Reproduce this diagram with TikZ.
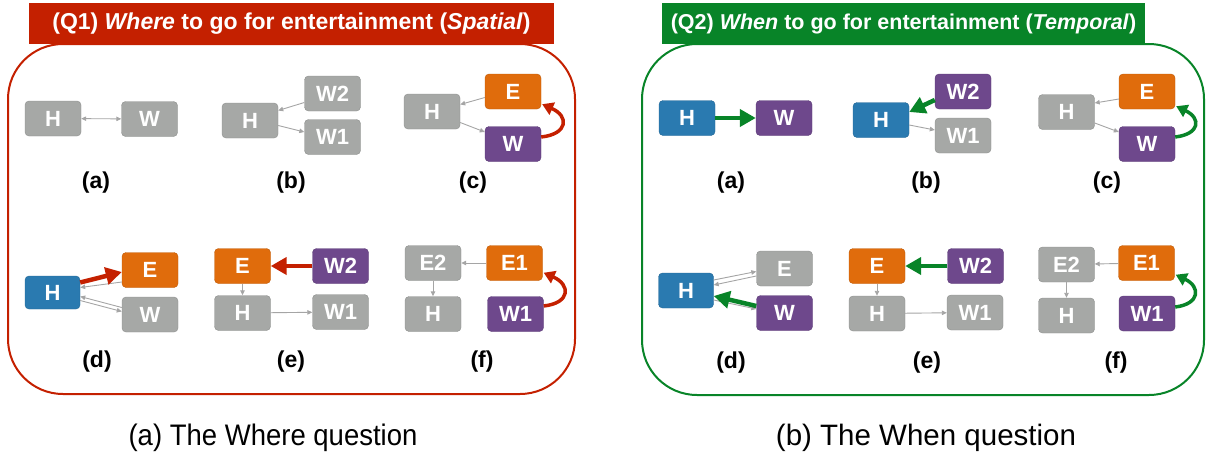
\documentclass[tikz,border=0pt]{standalone}
\usepackage{fontspec}
\setmainfont{Liberation Sans}
\usetikzlibrary{arrows.meta}
\definecolor{qred}{RGB}{196,32,0}
\definecolor{qgreen}{RGB}{8,132,40}
\definecolor{bgray}{RGB}{166,168,166}
\definecolor{borange}{RGB}{224,108,12}
\definecolor{bpurple}{RGB}{110,72,140}
\definecolor{bblue}{RGB}{42,122,176}
\definecolor{agray}{RGB}{165,165,165}
\tikzset{
  bx/.style={rounded corners=4pt, minimum width=56pt, minimum height=35pt, inner sep=0pt,
    fill=#1, draw=#1!85!black, line width=0.4pt, text=white,
    font=\fontsize{22}{22}\selectfont\bfseries},
  garr/.style={draw=agray, line width=0.9pt, -{Triangle[length=5pt,width=4.5pt]}},
  garrb/.style={draw=agray, line width=0.9pt, {Triangle[length=5pt,width=4.5pt]}-{Triangle[length=5pt,width=4.5pt]}},
  thk/.style={draw=#1, line width=4.5pt, -{Triangle[length=16pt,width=17pt]}},
  crv/.style={draw=#1, line width=3.5pt, -{Triangle[length=11pt,width=13pt]}},
  lab/.style={font=\fontsize{23}{23}\selectfont\bfseries},
}
\begin{document}
\begin{tikzpicture}[x=1pt,y=-1pt]
\useasboundingbox (0,0) rectangle (1206,458);

% ===== containers =====
\draw[qred, line width=2pt, rounded corners=55pt] (8,44) rectangle (575,394);
\draw[qgreen, line width=2pt, rounded corners=55pt] (642,44) rectangle (1204,395);
\node[fill=qred, minimum width=525pt, minimum height=41pt, inner sep=0pt, text=white,
  font=\fontsize{23}{23}\selectfont\bfseries] (t1) at (291.5,23.5)
  {(Q1) \textit{Where} to go for entertainment (\textit{Spatial})};
\node[fill=qgreen, minimum width=483pt, minimum height=41pt, inner sep=0pt, text=white,
  font=\fontsize{21.5}{21.5}\selectfont\bfseries] (t2) at (903.5,23.5)
  {(Q2) \textit{When} to go for entertainment (\textit{Temporal})};

% ===== LEFT =====
% (a)
\node[bx=bgray] (aH) at (53,118.5) {H};
\node[bx=bgray] (aW) at (149.5,119) {W};
\draw[garrb] (aH) -- (aW);
\node[lab] (la) at (96,183) {(a)};
% (b)
\node[bx=bgray] (bH) at (250,120.5) {H};
\node[bx=bgray] (bW2) at (332.5,93.5) {W2};
\node[bx=bgray] (bW1) at (332.5,137) {W1};
\draw[garr] ([yshift=-9pt]bW2.west) -- ([yshift=10pt]bH.east);
\draw[garr] ([yshift=-5pt]bH.east) -- ([yshift=5pt]bW1.west);
\node[lab] (lb) at (291,183) {(b)};
% (c)
\node[bx=bgray] (cH) at (432,111.5) {H};
\node[bx=borange] (cE) at (513,91.5) {E};
\node[bx=bpurple] (cW) at (513,144) {W};
\draw[garr] ([yshift=-6pt]cE.west) -- ([yshift=7pt]cH.east);
\draw[garr] ([yshift=-11pt]cH.east) -- ([yshift=12pt]cW.west);
\draw[crv=qred] ([yshift=7pt]cW.east) .. controls +(27,-3) and +(27,12) .. ([xshift=1pt,yshift=5pt]cE.south east);
\node[lab] (lc) at (473,183) {(c)};
% (d)
\node[bx=bblue, minimum width=55pt, minimum height=33pt] (dH) at (52.5,292.5) {H};
\node[bx=borange] (dE) at (150,270) {E};
\node[bx=bgray] (dW) at (150,314.5) {W};
\draw[garr] ([yshift=-12pt]dE.west) -- ([yshift=5pt]dH.east);
\draw[thk=qred] ([yshift=10pt]dH.east) -- ([yshift=-2pt]dE.west);
\draw[garr] ([yshift=7pt]dW.west) -- ([yshift=-4pt]dH.east);
\draw[garr] ([yshift=-8pt]dH.east) -- ([yshift=3pt]dW.west);
\node[lab] (ld) at (97,362) {(d)};
% (e)
\node[bx=borange] (eE) at (242.5,266) {E};
\node[bx=bpurple] (eW2) at (340.5,266) {W2};
\node[bx=bgray] (eH) at (242.5,313) {H};
\node[bx=bgray] (eW1) at (340.5,312) {W1};
\draw[thk=qred] (eW2) -- (eE);
\draw[garr] (eE) -- (eH);
\draw[garr] (eH) -- (eW1);
\node[lab] (le) at (291,362) {(e)};
% (f)
\node[bx=bgray] (fE2) at (433,263) {E2};
\node[bx=borange] (fE1) at (514.5,263) {E1};
\node[bx=bgray] (fH) at (433,314) {H};
\node[bx=bpurple] (fW1) at (515.5,314) {W1};
\draw[garr] (fE1) -- (fE2);
\draw[garr] (fE2) -- (fH);
\draw[crv=qred] ([yshift=8pt]fW1.east) .. controls +(27,-3) and +(27,12) .. ([xshift=1pt,yshift=8pt]fE1.south east);
\node[lab] (lf) at (482,362) {(f)};

% ===== RIGHT =====
% (a)
\node[bx=bblue] (raH) at (687,118) {H};
\node[bx=bpurple] (raW) at (784,118) {W};
\draw[thk=qgreen] (raH) -- (raW);
\node[lab] (rla) at (731,183) {(a)};
% (b)
\node[bx=bblue] (rbH) at (881,120) {H};
\node[bx=bpurple] (rbW2) at (963,91.5) {W2};
\node[bx=bgray] (rbW1) at (963,135.5) {W1};
\draw[garr] ([yshift=-5pt]rbH.east) -- ([yshift=5.5pt]rbW1.west);
\draw[thk=qgreen] ([yshift=-8.5pt]rbW2.west) -- ([yshift=8pt]rbH.east);
\node[lab] (rlb) at (926,183) {(b)};
% (c)
\node[bx=bgray] (rcH) at (1066.5,112) {H};
\node[bx=borange] (rcE) at (1147,91.5) {E};
\node[bx=bpurple] (rcW) at (1147,144) {W};
\draw[garr] ([yshift=-7.5pt]rcE.west) -- ([yshift=9pt]rcH.east);
\draw[garr] ([yshift=-11pt]rcH.east) -- ([yshift=12pt]rcW.west);
\draw[crv=qgreen] ([yshift=7pt]rcW.east) .. controls +(25,-3) and +(25,12) .. ([xshift=1pt,yshift=3pt]rcE.south east);
\node[lab] (rlc) at (1107,183) {(c)};
% (d)
\node[bx=bblue, minimum width=55pt] (rdH) at (686,290.5) {H};
\node[bx=bgray] (rdE) at (784.5,268.5) {E};
\node[bx=bpurple] (rdW) at (784.5,313) {W};
\draw[garr] ([yshift=10.5pt]rdH.east) -- ([yshift=-3pt]rdE.west);
\draw[garr] ([yshift=-7.5pt]rdE.west) -- ([yshift=5.5pt]rdH.east);
\draw[garr] ([yshift=-9.5pt]rdH.east) -- ([yshift=4pt]rdW.west);
\draw[thk=qgreen] ([yshift=7pt]rdW.west) -- ([yshift=-5.5pt]rdH.east);
\node[lab] (rld) at (731,363) {(d)};
% (e)
\node[bx=borange] (reE) at (877,266) {E};
\node[bx=bpurple] (reW2) at (975.5,266) {W2};
\node[bx=bgray] (reH) at (877,313.5) {H};
\node[bx=bgray] (reW1) at (975,312.5) {W1};
\draw[thk=qgreen] (reW2) -- (reE);
\draw[garr] (reE) -- (reH);
\draw[garr] (reH) -- (reW1);
\node[lab] (rle) at (927,363) {(e)};
% (f)
\node[bx=bgray] (rfE2) at (1066.5,264.5) {E2};
\node[bx=borange] (rfE1) at (1146.5,263) {E1};
\node[bx=bgray] (rfH) at (1066.5,315.5) {H};
\node[bx=bpurple] (rfW1) at (1147,313.5) {W1};
\draw[garr] (rfE1) -- (rfE2);
\draw[garr] (rfE2) -- (rfH);
\draw[crv=qgreen] ([yshift=6.5pt]rfW1.east) .. controls +(25,-3) and +(25,12) .. ([xshift=1pt,yshift=6pt]rfE1.south east);
\node[lab] (rlf) at (1116,363) {(f)};

% ===== captions =====
\node[font=\fontsize{27.5}{27.5}\selectfont] (capa) at (273,438) {\scalebox{1}[1.08]{(a) The Where question}};
\node[font=\fontsize{29.5}{29.5}\selectfont] (capb) at (926,438) {(b) The When question};
\end{tikzpicture}
\end{document}
